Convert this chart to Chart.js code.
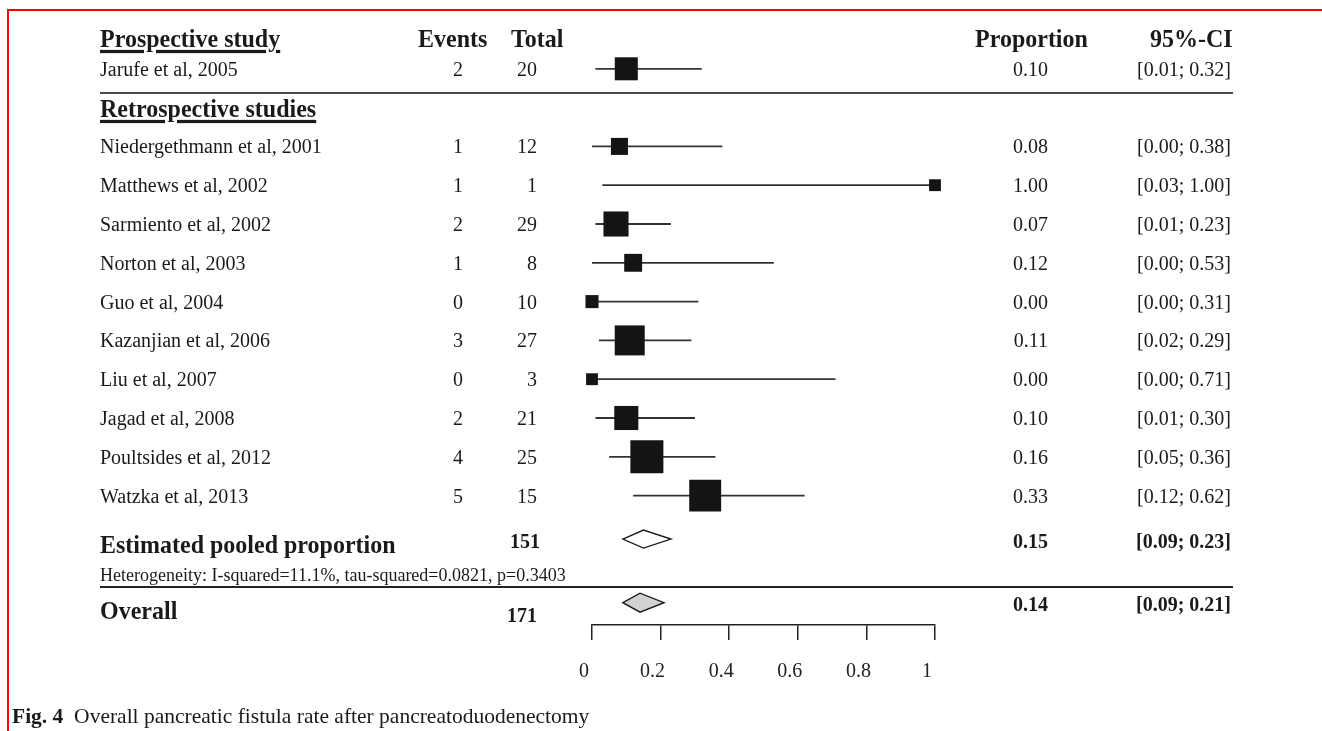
<!DOCTYPE html>
<html>
<head>
<meta charset="utf-8">
<script src="https://cdn.jsdelivr.net/npm/chart.js@4.4.1/dist/chart.umd.min.js"></script>
<style>
html,body{margin:0;padding:0;background:#fff;}
#wrap{position:relative;width:1322px;height:731px;overflow:hidden;font-family:"Liberation Serif","Times New Roman",serif;color:#1a1a1a;}
#frame{position:absolute;left:7px;top:9px;width:1330px;height:740px;border-top:2px solid #ff0000;border-left:2px solid #ff0000;box-sizing:border-box;}
#chart{position:absolute;left:0;top:0;}
.t{position:absolute;white-space:nowrap;line-height:1;transform:translateY(-50%);}
.b{font-weight:bold;}
.tall{transform:translateY(-50%) scaleY(1.08);}
.u{text-decoration:underline;text-decoration-thickness:3px;text-underline-offset:3px;}
.sep{position:absolute;height:2px;}
</style>
</head>
<body>
<div id="wrap">
  <div id="frame"></div>
  <canvas id="chart" width="1322" height="731"></canvas>
</div>
<script>
// ---------------- DATA ----------------
const prospectiveStudies = ["Jarufe et al, 2005"];
const prospectiveEvents  = [2];
const prospectiveTotal   = [20];
const prospectiveProp    = [0.10];
const prospectiveLower   = [0.01];
const prospectiveUpper   = [0.32];
const prospectiveWeight  = [5.3];

const retroStudies = [
  "Niedergethmann et al, 2001", "Matthews et al, 2002", "Sarmiento et al, 2002",
  "Norton et al, 2003", "Guo et al, 2004", "Kazanjian et al, 2006",
  "Liu et al, 2007", "Jagad et al, 2008", "Poultsides et al, 2012", "Watzka et al, 2013"
];
const retroEvents = [1, 1, 2, 1, 0, 3, 0, 2, 4, 5];
const retroTotal  = [12, 1, 29, 8, 10, 27, 3, 21, 25, 15];
const retroProp   = [0.08, 1.00, 0.07, 0.12, 0.00, 0.11, 0.00, 0.10, 0.16, 0.33];
const retroLower  = [0.00, 0.03, 0.01, 0.00, 0.00, 0.02, 0.00, 0.01, 0.05, 0.12];
const retroUpper  = [0.38, 1.00, 0.23, 0.53, 0.31, 0.29, 0.71, 0.30, 0.36, 0.62];
const retroWeight = [2.9, 1.4, 6.3, 3.2, 1.7, 9.0, 1.4, 5.8, 10.9, 10.2];

const summaryLabels = ["Estimated pooled proportion", "Overall"];
const summaryTotal  = [151, 171];
const summaryProp   = [0.15, 0.14];
const summaryLower  = [0.09, 0.09];
const summaryUpper  = [0.23, 0.21];

const heterogeneityText = "Heterogeneity: I-squared=11.1%, tau-squared=0.0821, p=0.3403";
const xTicks = [0, 0.2, 0.4, 0.6, 0.8, 1];
const columnHeaders = ["Events", "Total", "Proportion", "95%-CI"];
const groupHeaders = ["Prospective study", "Retrospective studies"];
const captionBold = "Fig. 4";
const captionText = "Overall pancreatic fistula rate after pancreatoduodenectomy";

// ---------------- LAYOUT ----------------
const ROW_HEADER = 0.21, ROW_PROSP = 1, ROW_SEP1 = 1.62, ROW_RETRO_HDR = 2, ROW_RETRO = 3;
const ROW_POOLED = 13.12, ROW_HET = 14.05, ROW_SEP2 = 14.36, ROW_OVERALL = 14.76;
const X_NAME = 100, X_EVENTS_R = 463, X_TOTAL_R = 537, X_PROP_R = 1048, X_CI_R = 1231;

const studies = [];
prospectiveStudies.forEach((s, i) => studies.push({name: s, ev: prospectiveEvents[i], n: prospectiveTotal[i],
  p: prospectiveProp[i], lo: prospectiveLower[i], hi: prospectiveUpper[i], w: prospectiveWeight[i], row: ROW_PROSP + i}));
retroStudies.forEach((s, i) => studies.push({name: s, ev: retroEvents[i], n: retroTotal[i],
  p: retroProp[i], lo: retroLower[i], hi: retroUpper[i], w: retroWeight[i], row: ROW_RETRO + i}));
const summaryRows = [ROW_POOLED, ROW_OVERALL];

const fmt = v => v.toFixed(2);
const ciStr = (lo, hi) => "[" + fmt(lo) + "; " + fmt(hi) + "]";

// ---------------- DATASETS ----------------
const datasets = [];
datasets.push({
  label: "boxes",
  order: 0,
  clip: false,
  data: studies.map(s => ({x: s.p, y: s.row})),
  pointStyle: 'rect',
  pointRadius: studies.map(s => 10 * Math.sqrt(s.w) / 1.4142),
  pointHoverRadius: studies.map(s => 10 * Math.sqrt(s.w) / 1.4142),
  backgroundColor: '#141414',
  borderColor: '#141414',
  borderWidth: 0
});
studies.forEach(s => {
  datasets.push({
    label: s.name,
    order: 1,
    clip: false,
    showLine: true,
    data: [{x: s.lo, y: s.row}, {x: s.hi, y: s.row}],
    borderColor: '#333333',
    borderWidth: 1.8,
    pointRadius: 0,
    pointHoverRadius: 0
  });
});

const diamondPlugin = {
  id: 'diamonds',
  afterDatasetsDraw(chart) {
    const {ctx, scales: {x, y}} = chart;
    summaryProp.forEach((p, i) => {
      const yc = y.getPixelForValue(summaryRows[i]);
      const h = i === 0 ? 9 : 9.5;
      ctx.save();
      ctx.beginPath();
      ctx.moveTo(x.getPixelForValue(summaryLower[i]), yc);
      ctx.lineTo(x.getPixelForValue(p), yc - h);
      ctx.lineTo(x.getPixelForValue(summaryUpper[i]), yc);
      ctx.lineTo(x.getPixelForValue(p), yc + h);
      ctx.closePath();
      ctx.fillStyle = i === 0 ? '#ffffff' : '#d2d2d2';
      ctx.fill();
      ctx.lineWidth = 1.4;
      ctx.strokeStyle = '#1a1a1a';
      ctx.stroke();
      ctx.restore();
    });
  }
};

const chart = new Chart(document.getElementById('chart'), {
  type: 'scatter',
  data: {datasets},
  options: {
    responsive: false,
    animation: false,
    events: [],
    layout: {padding: {left: 592, right: 387, top: 30, bottom: 27}},
    plugins: {legend: {display: false}, tooltip: {enabled: false}},
    scales: {
      x: {
        type: 'linear', min: 0, max: 1, position: 'bottom',
        afterBuildTicks: s => { s.ticks = xTicks.map(v => ({value: v})); },
        ticks: {
          color: '#222', padding: 20, labelOffset: -8, maxRotation: 0, autoSkip: false,
          font: {family: 'Liberation Serif', size: 20},
          callback: v => String(v)
        },
        grid: {drawOnChartArea: false, drawTicks: true, tickLength: 15, color: '#222', lineWidth: 1.5},
        border: {display: true, color: '#222', width: 1.5}
      },
      y: {type: 'linear', display: false, reverse: true, min: 0, max: 15.335}
    }
  },
  plugins: [diamondPlugin]
});

// ---------------- TEXT (HTML) ----------------
const wrap = document.getElementById('wrap');
const ys = chart.scales.y;
function txt(str, x, row, o = {}) {
  const d = document.createElement('div');
  d.className = 't' + (o.bold ? ' b' : '') + (o.u ? ' u' : '') + (o.tall ? ' tall' : '');
  d.textContent = str;
  d.style.fontSize = (o.size || 20) + 'px';
  d.style.top = (ys.getPixelForValue(row) + (o.dy || 0)) + 'px';
  if (o.right) d.style.right = (1322 - x) + 'px'; else d.style.left = x + 'px';
  wrap.appendChild(d);
  return d;
}
function sep(row, color) {
  const d = document.createElement('div');
  d.className = 'sep';
  d.style.left = '100px';
  d.style.width = '1133px';
  d.style.top = (ys.getPixelForValue(row) - 1) + 'px';
  d.style.background = color;
  wrap.appendChild(d);
}

// headers
txt(groupHeaders[0], X_NAME, ROW_HEADER, {bold: true, u: true, size: 24, tall: true});
txt(columnHeaders[0], 418, ROW_HEADER, {bold: true, size: 24, tall: true});
txt(columnHeaders[1], 511, ROW_HEADER, {bold: true, size: 24, tall: true});
txt(columnHeaders[2], 975, ROW_HEADER, {bold: true, size: 24, tall: true});
txt(columnHeaders[3], 1150, ROW_HEADER, {bold: true, size: 24, tall: true});
txt(groupHeaders[1], X_NAME, ROW_RETRO_HDR, {bold: true, u: true, size: 24, tall: true});

// study rows
studies.forEach(s => {
  txt(s.name, X_NAME, s.row);
  txt(String(s.ev), X_EVENTS_R, s.row, {right: true});
  txt(String(s.n), X_TOTAL_R, s.row, {right: true});
  txt(fmt(s.p), X_PROP_R, s.row, {right: true});
  txt(ciStr(s.lo, s.hi), X_CI_R, s.row, {right: true});
});

// summary rows
txt(summaryLabels[0], X_NAME, ROW_POOLED, {bold: true, size: 24, dy: 5, tall: true});
txt(String(summaryTotal[0]), 540, ROW_POOLED, {bold: true, right: true, dy: 2});
txt(fmt(summaryProp[0]), X_PROP_R, ROW_POOLED, {bold: true, right: true, dy: 2});
txt(ciStr(summaryLower[0], summaryUpper[0]), X_CI_R, ROW_POOLED, {bold: true, right: true, dy: 2});
txt(heterogeneityText, X_NAME, ROW_HET, {size: 18});
txt(summaryLabels[1], X_NAME, ROW_OVERALL, {bold: true, size: 24, dy: 7, tall: true});
txt(String(summaryTotal[1]), X_TOTAL_R, ROW_OVERALL, {bold: true, right: true, dy: 12});
txt(fmt(summaryProp[1]), X_PROP_R, ROW_OVERALL, {bold: true, right: true, dy: 1});
txt(ciStr(summaryLower[1], summaryUpper[1]), X_CI_R, ROW_OVERALL, {bold: true, right: true, dy: 1});

sep(ROW_SEP1, '#4a4a4a');
sep(ROW_SEP2, '#222222');

// caption
const cap = document.createElement('div');
cap.className = 't';
cap.style.left = '12px';
cap.style.top = '717px';
cap.style.fontSize = '21.5px';
const cb = document.createElement('span');
cb.style.fontWeight = 'bold';
cb.textContent = captionBold;
cap.appendChild(cb);
cap.appendChild(document.createTextNode('\u2002' + captionText));
wrap.appendChild(cap);
</script>
</body>
</html>
